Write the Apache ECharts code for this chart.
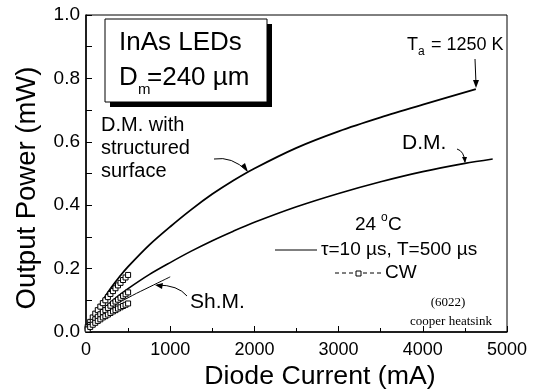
<!DOCTYPE html>
<html><head><meta charset="utf-8">
<script src="https://cdn.jsdelivr.net/npm/echarts@6/dist/echarts.min.js"></script>
<style>html,body{margin:0;padding:0;background:#fff}#c{width:538px;height:391px}</style>
</head><body><div id="c"></div>
<script>
// Data
const structX = [0, 100, 200, 300, 400, 500, 750, 1000, 1250, 1500, 1750, 2000, 2500, 3000, 3500, 4000, 4630];
const structY = [0, 0.055, 0.1, 0.14, 0.175, 0.206, 0.274, 0.332, 0.386, 0.435, 0.478, 0.516, 0.581, 0.633, 0.677, 0.717, 0.766];
const dmX = [0, 100, 200, 300, 400, 500, 750, 1000, 1250, 1500, 1750, 2000, 2500, 3000, 3500, 4000, 4500, 4830];
const dmY = [0, 0.04, 0.07, 0.095, 0.117, 0.137, 0.181, 0.219, 0.255, 0.288, 0.318, 0.346, 0.395, 0.437, 0.474, 0.506, 0.532, 0.546];
const shX = [0, 100, 200, 300, 400, 500, 600, 700, 800, 900, 1000];
const shY = [0, 0.035, 0.058, 0.077, 0.094, 0.108, 0.122, 0.135, 0.148, 0.161, 0.174];
const cwX = [20, 50, 80, 110, 140, 170, 200, 230, 260, 290, 320, 350, 380, 410, 440, 470, 500];
const cwStructY = [0.016, 0.032, 0.046, 0.058, 0.069, 0.080, 0.091, 0.100, 0.110, 0.120, 0.129, 0.138, 0.147, 0.155, 0.164, 0.172, 0.180];
const cwDmY = [0.011, 0.022, 0.032, 0.040, 0.048, 0.056, 0.063, 0.069, 0.076, 0.083, 0.090, 0.096, 0.102, 0.108, 0.114, 0.119, 0.125];
const cwShY = [0.008, 0.016, 0.023, 0.029, 0.035, 0.040, 0.046, 0.050, 0.055, 0.060, 0.065, 0.069, 0.074, 0.078, 0.082, 0.086, 0.090];
const xTicks = [0, 1000, 2000, 3000, 4000, 5000];
const yTicks = [0.0, 0.2, 0.4, 0.6, 0.8, 1.0];

const F = 'Liberation Sans, Arial, sans-serif';
const zip = (xs, ys) => xs.map((x, i) => [x, ys[i]]);
const chart = echarts.init(document.getElementById('c'), null, {renderer: 'canvas'});

const lineS = (data, w) => ({type: 'line', data, showSymbol: false, symbol: 'none', smooth: 0.3,
  lineStyle: {color: '#000', width: w}, z: 3});
const cwS = (data) => ({type: 'line', data, symbol: 'rect', symbolSize: 5, showSymbol: true,
  lineStyle: {color: '#000', width: 0.8, type: 'dashed'},
  itemStyle: {color: '#fff', borderColor: '#000', borderWidth: 1}, z: 4});

const T = (x, y, text, size, extra) => ({type: 'text', x, y, z: 10,
  style: Object.assign({text, fill: '#000', font: size + 'px ' + F, textVerticalAlign: 'middle'}, extra || {})});

chart.setOption({
  animation: false,
  backgroundColor: '#fff',
  grid: {left: 86, right: 31, top: 15, bottom: 59, show: true, borderColor: '#000', borderWidth: 1},
  xAxis: {type: 'value', min: 0, max: 5000, interval: 1000,
    axisLine: {show: true, onZero: false, lineStyle: {color: '#000', width: 1.5}},
    axisTick: {show: true, inside: true, length: 6, lineStyle: {color: '#000'}},
    minorTick: {show: true, splitNumber: 2, length: 4, lineStyle: {color: '#000'}},
    splitLine: {show: false},
    axisLabel: {color: '#000', fontSize: 18, fontFamily: F, margin: 9,
      formatter: v => xTicks.includes(v) ? String(v) : ''}},
  yAxis: {type: 'value', min: 0, max: 1, interval: 0.2,
    axisLine: {show: true, onZero: false, lineStyle: {color: '#000', width: 1.5}},
    axisTick: {show: true, inside: true, length: 6, lineStyle: {color: '#000'}},
    minorTick: {show: true, splitNumber: 2, length: 6, lineStyle: {color: '#000'}},
    splitLine: {show: false},
    axisLabel: {color: '#000', fontSize: 19, fontFamily: F, margin: 6,
      formatter: v => yTicks.some(t => Math.abs(t - v) < 1e-6) ? v.toFixed(1) : ''}},
  series: [
    lineS(zip(structX, structY), 1.8),
    lineS(zip(dmX, dmY), 1.6),
    lineS(zip(shX, shY), 1),
    cwS(zip(cwX, cwStructY)),
    cwS(zip(cwX, cwDmY)),
    cwS(zip(cwX, cwShY))
  ],
  graphic: [
    // axis titles
    T(320, 377, 'Diode Current (mA)', 26.7, {textAlign: 'center'}),
    {type: 'text', x: 27, y: 188, rotation: Math.PI / 2, z: 10,
      style: {text: 'Output Power (mW)', fill: '#000', font: '27.5px ' + F, textAlign: 'center', textVerticalAlign: 'middle'}},
    // InAs box with shadow
    {type: 'rect', shape: {x: 110, y: 24, width: 162, height: 83}, style: {fill: '#000'}, z: 8},
    {type: 'rect', shape: {x: 105, y: 19, width: 162, height: 83}, style: {fill: '#fff', stroke: '#000', lineWidth: 1}, z: 9},
    T(119, 43, 'InAs LEDs', 26),
    T(119, 78, 'D', 26),
    T(138, 90, 'm', 15),
    T(147, 78, '=240 \u00b5m', 26),
    // Ta label
    T(407, 45, 'T', 18),
    T(418, 52, 'a', 12),
    T(431, 45, '= 1250 K', 18),
    {type: 'line', shape: {x1: 475, y1: 59, x2: 476, y2: 84}, style: {stroke: '#000', lineWidth: 1}, z: 10},
    {type: 'polygon', shape: {points: [[473, 80], [479, 80], [476, 88]]}, style: {fill: '#000'}, z: 10},
    // D.M. with structured surface
    T(101, 125, 'D.M. with', 20),
    T(101, 148, 'structured', 20),
    T(101, 171, 'surface', 20),
    {type: 'bezierCurve', shape: {x1: 214, y1: 159, x2: 247, y2: 171, cpx1: 232, cpy1: 156}, style: {stroke: '#000', lineWidth: 1, fill: 'none'}, z: 10},
    {type: 'polygon', shape: {points: [[241, 166], [245, 163], [248, 172]]}, style: {fill: '#000'}, z: 10},
    // D.M.
    T(402, 143, 'D.M.', 21),
    {type: 'bezierCurve', shape: {x1: 457, y1: 149, x2: 465, y2: 162, cpx1: 464, cpy1: 151}, style: {stroke: '#000', lineWidth: 1, fill: 'none'}, z: 10},
    {type: 'polygon', shape: {points: [[462, 157], [467, 157], [465, 163]]}, style: {fill: '#000'}, z: 10},
    // Sh.M.
    T(190, 302, 'Sh.M.', 21),
    {type: 'bezierCurve', shape: {x1: 187, y1: 296, x2: 157, y2: 285, cpx1: 178, cpy1: 285}, style: {stroke: '#000', lineWidth: 1, fill: 'none'}, z: 10},
    {type: 'polygon', shape: {points: [[163, 283], [162, 289], [155, 285]]}, style: {fill: '#000'}, z: 10},
    // legend
    T(355, 225, '24 ', 19),
    T(381, 218, 'o', 12),
    T(388, 225, 'C', 19),
    {type: 'line', shape: {x1: 275, y1: 250, x2: 317, y2: 250}, style: {stroke: '#000', lineWidth: 1}, z: 10},
    T(321, 250, '\u03c4=10 \u00b5s, T=500 \u00b5s', 19),
    {type: 'line', shape: {x1: 335, y1: 273, x2: 354, y2: 273}, style: {stroke: '#000', lineWidth: 1, lineDash: [4, 3]}, z: 10},
    {type: 'rect', shape: {x: 356, y: 271, width: 5, height: 5}, style: {fill: '#fff', stroke: '#000', lineWidth: 1}, z: 10},
    {type: 'line', shape: {x1: 363, y1: 273, x2: 382, y2: 273}, style: {stroke: '#000', lineWidth: 1, lineDash: [4, 3]}, z: 10},
    T(385, 273, 'CW', 19),
    T(448, 303, '(6022)', 13, {textAlign: 'center', font: '13px Liberation Serif, Times New Roman, serif'}),
    T(451, 322, 'cooper heatsink', 13, {textAlign: 'center', font: '13px Liberation Serif, Times New Roman, serif'})
  ]
});
</script></body></html>
